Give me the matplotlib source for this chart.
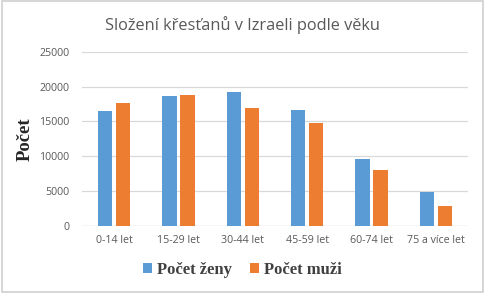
import numpy as np
import matplotlib.pyplot as plt
from matplotlib.patches import Rectangle

# data
categories = ['0-14 let', '15-29 let', '30-44 let', '45-59 let', '60-74 let', '75 a více let']
zeny = [16550, 18650, 19200, 16600, 9600, 4850]
muzi = [17650, 18850, 16900, 14700, 7950, 2850]
yticks = [0, 5000, 10000, 15000, 20000, 25000]

blue = '#5B9BD5'
orange = '#ED7D31'
grey = '#595959'

fig = plt.figure(figsize=(4.85, 2.93), dpi=100)
ax = fig.add_axes([0.169, 0.230, 0.796, 0.593])

x = np.arange(len(categories))
w = 0.22
ax.bar(x - 0.14, zeny, w, color=blue, label='Počet ženy', zorder=3)
ax.bar(x + 0.14, muzi, w, color=orange, label='Počet muži', zorder=3)

ax.set_xlim(-0.5, len(categories) - 0.5)
ax.set_ylim(0, 25000)
ax.set_yticks(yticks)
ax.set_xticks(x)
ax.set_xticklabels(categories)
ax.tick_params(axis='both', length=0, labelsize=7.7, labelcolor=grey, pad=7)
ax.tick_params(axis='y', pad=9)
for lbl in ax.get_xticklabels() + ax.get_yticklabels():
    lbl.set_family('Open Sans')

ax.grid(axis='y', color='#d9d9d9', linewidth=0.9, zorder=0)
for s in ax.spines.values():
    s.set_visible(False)
ax.axhline(0, color='#d9d9d9', linewidth=0.9, zorder=1)

ax.set_ylabel('Počet', family='Liberation Serif', fontweight='bold', fontsize=13.5,
              color='#262626', labelpad=4)

fig.text(0.5, 0.915, 'Složení křesťanů v Izraeli podle věku', ha='center', va='center',
         fontsize=11.8, color=grey, family='Open Sans')

fig.legend(loc='center', bbox_to_anchor=(0.5, 0.08), ncol=2, frameon=False,
           handlelength=0.55, handleheight=0.55, handletextpad=0.3, columnspacing=1.1,
           prop={'family': 'Liberation Serif', 'weight': 'bold', 'size': 12},
           labelcolor='#404040')

# light border around the whole chart
fig.patches.append(Rectangle((0.004, 0.005), 0.992, 0.99, transform=fig.transFigure,
                             fill=False, edgecolor='#d0d0d0', linewidth=1.2))

fig.savefig('out.png', dpi=100)
